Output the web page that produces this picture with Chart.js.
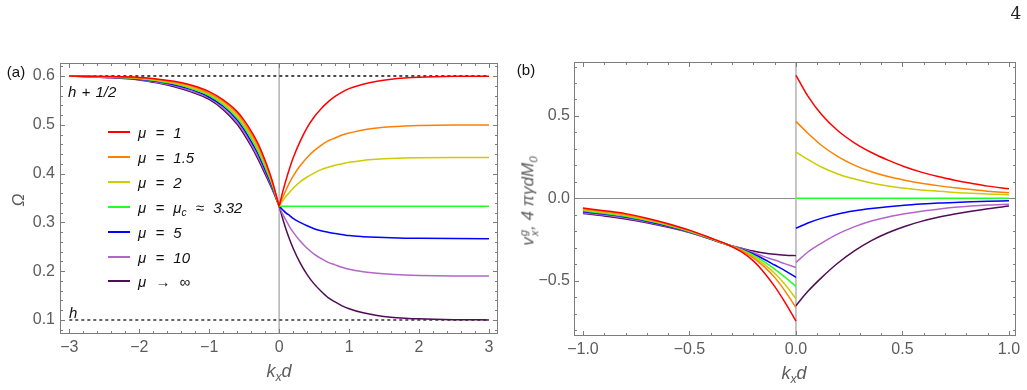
<!DOCTYPE html>
<html><head><meta charset="utf-8">
<script src="https://cdn.jsdelivr.net/npm/chart.js@4.4.1/dist/chart.umd.min.js"></script>
<style>
body{margin:0;background:#fff;}
#wrap{position:relative;width:1027px;height:390px;overflow:hidden;background:#fff;font-family:"Liberation Sans",Arial,sans-serif;}
canvas{position:absolute;top:0;}
.t{position:absolute;white-space:nowrap;line-height:1;}
.c{transform:translate(-50%,-50%);}
.l{transform:translate(0,-50%);}
.it{font-style:italic;}
.g{color:#5c5c5c;}
sub.s{font-size:68%;vertical-align:-0.3em;line-height:0;}
.ss{display:inline-flex;flex-direction:column;vertical-align:middle;font-size:0.66em;line-height:0.95;margin-left:1px;}
.leg{position:absolute;left:108px;width:22px;height:2px;}
</style></head>
<body><div id="wrap">
<canvas id="cL" width="512" height="390" style="left:0"></canvas>
<canvas id="cR" width="515" height="390" style="left:512px"></canvas>
</div>
<script>
// ---------------- data ----------------
const seriesNames = ['μ = 1','μ = 1.5','μ = 2','μ = μ<sub class="s">c</sub> ≈ 3.32','μ = 5','μ = 10','μ → ∞'];
const seriesColors = ['#ff0000','#ff8000','#cccc00','#22ff22','#0000ff','#b366c8','#500c55'];

// panel (a): Omega vs k_x d
const kA_neg = [-3,-2.5,-2,-1.75,-1.5,-1.25,-1,-0.8,-0.6,-0.5,-0.4,-0.3,-0.2,-0.1,0];
const omegaNeg = [
  [0.600,0.599,0.597,0.594,0.589,0.581,0.568,0.551,0.527,0.509,0.487,0.461,0.427,0.386,0.333],
  [0.600,0.599,0.596,0.593,0.587,0.579,0.565,0.548,0.523,0.504,0.482,0.456,0.422,0.383,0.333],
  [0.600,0.598,0.595,0.591,0.585,0.576,0.563,0.544,0.518,0.499,0.477,0.450,0.418,0.380,0.333],
  [0.600,0.598,0.595,0.590,0.584,0.574,0.560,0.541,0.514,0.495,0.472,0.445,0.413,0.377,0.333],
  [0.600,0.598,0.594,0.589,0.582,0.572,0.557,0.538,0.510,0.490,0.466,0.440,0.408,0.374,0.333],
  [0.600,0.597,0.593,0.587,0.580,0.569,0.555,0.534,0.505,0.485,0.461,0.434,0.404,0.371,0.333],
  [0.600,0.597,0.592,0.586,0.578,0.567,0.552,0.531,0.501,0.480,0.456,0.429,0.399,0.368,0.333]
];
const kA_pos = [0,0.05,0.1,0.15,0.2,0.3,0.4,0.5,0.6,0.7,0.8,0.9,1.0,1.2,1.4,1.6,1.8,2.0,2.5,3.0];
const omegaPos = [
  [0.333,0.362,0.388,0.411,0.432,0.466,0.494,0.516,0.533,0.547,0.558,0.567,0.574,0.5832,0.5893,0.5933,0.5957,0.5973,0.5992,0.5997],
  [0.333,0.351,0.367,0.382,0.395,0.416,0.433,0.447,0.458,0.467,0.473,0.479,0.483,0.4895,0.4933,0.4958,0.4973,0.4983,0.4995,0.4998],
  [0.333,0.344,0.354,0.362,0.370,0.383,0.393,0.401,0.408,0.413,0.417,0.420,0.423,0.4270,0.4293,0.4308,0.4317,0.4323,0.4330,0.4332],
  [0.333,0.333,0.333,0.333,0.333,0.333,0.333,0.333,0.333,0.333,0.333,0.333,0.333,0.333,0.333,0.333,0.333,0.333,0.333,0.333],
  [0.333,0.326,0.319,0.314,0.308,0.300,0.293,0.287,0.283,0.280,0.277,0.275,0.273,0.2708,0.2693,0.2683,0.2677,0.2673,0.2668,0.2667],
  [0.333,0.317,0.304,0.291,0.280,0.262,0.247,0.235,0.226,0.218,0.213,0.208,0.204,0.1990,0.1957,0.1936,0.1923,0.1914,0.1904,0.1901],
  [0.333,0.308,0.285,0.265,0.247,0.217,0.193,0.174,0.159,0.146,0.137,0.129,0.123,0.1147,0.1093,0.1058,0.1037,0.1023,0.1007,0.1002]
];
const refLineX = [-3,3];
const refUpper = [0.6,0.6];   // h + 1/2
const refLower = [0.1,0.1];   // h

// panel (b): group velocity vs k_x d
const kB_neg = [-1,-0.9,-0.8,-0.7,-0.6,-0.5,-0.4,-0.32,-0.25,-0.2,-0.15,-0.1,-0.05,0];
const velNeg = [
  [-0.059,-0.075,-0.093,-0.121,-0.154,-0.193,-0.241,-0.282,-0.330,-0.380,-0.450,-0.535,-0.635,-0.745],
  [-0.065,-0.080,-0.098,-0.126,-0.158,-0.196,-0.242,-0.282,-0.322,-0.362,-0.415,-0.480,-0.565,-0.663],
  [-0.070,-0.086,-0.104,-0.130,-0.161,-0.198,-0.244,-0.282,-0.318,-0.352,-0.400,-0.455,-0.525,-0.610],
  [-0.076,-0.091,-0.109,-0.135,-0.165,-0.201,-0.245,-0.282,-0.315,-0.345,-0.385,-0.430,-0.480,-0.535],
  [-0.082,-0.096,-0.114,-0.139,-0.169,-0.203,-0.246,-0.282,-0.312,-0.338,-0.370,-0.405,-0.440,-0.480],
  [-0.087,-0.102,-0.120,-0.144,-0.172,-0.206,-0.248,-0.282,-0.308,-0.330,-0.354,-0.375,-0.398,-0.420],
  [-0.093,-0.107,-0.125,-0.148,-0.176,-0.208,-0.249,-0.282,-0.305,-0.320,-0.332,-0.340,-0.345,-0.348]
];
const kB_pos = [0,0.056,0.119,0.197,0.276,0.354,0.432,0.510,0.588,0.667,0.745,0.823,0.901,1.0];
const velPos = [
  [0.747,0.620,0.510,0.410,0.335,0.278,0.232,0.192,0.159,0.132,0.110,0.091,0.074,0.058],
  [0.467,0.395,0.322,0.253,0.200,0.161,0.132,0.110,0.092,0.077,0.064,0.053,0.043,0.034],
  [0.281,0.236,0.190,0.148,0.117,0.093,0.075,0.061,0.051,0.043,0.036,0.031,0.026,0.022],
  [0,0,0,0,0,0,0,0,0,0,0,0,0,0],
  [-0.182,-0.150,-0.122,-0.095,-0.076,-0.062,-0.051,-0.042,-0.035,-0.029,-0.025,-0.021,-0.018,-0.015],
  [-0.390,-0.326,-0.273,-0.216,-0.172,-0.138,-0.113,-0.094,-0.078,-0.066,-0.055,-0.047,-0.041,-0.036],
  [-0.652,-0.565,-0.483,-0.393,-0.318,-0.257,-0.209,-0.171,-0.140,-0.115,-0.095,-0.078,-0.063,-0.047]
];

// ticks
const xTicksA = [-3,-2,-1,0,1,2,3];
const xLabelsA = ['−3','−2','−1','0','1','2','3'];
const yTicksA = [0.1,0.2,0.3,0.4,0.5,0.6];
const yLabelsA = ['0.1','0.2','0.3','0.4','0.5','0.6'];
const xTicksB = [-1,-0.5,0,0.5,1];
const xLabelsB = ['−1.0','−0.5','0.0','0.5','1.0'];
const yTicksB = [-0.5,0,0.5];
const yLabelsB = ['−0.5','0.0','0.5'];

// ---------------- helpers ----------------
function pts(xs, ys){ return xs.map((x,i)=>({x:x, y:ys[i]})); }
function minors(lo, hi, step, majors){
  const out=[]; const n=Math.round((hi-lo)/step);
  for(let i=0;i<=n;i++){ const v=+(lo+i*step).toFixed(6); if(!majors.some(m=>Math.abs(m-v)<1e-9)) out.push(v); }
  return out;
}
const FRAME='#7d7d7d';
const framePlugin = {
  id:'frame',
  beforeDatasetsDraw(chart, args, o){
    const {left,right,top,bottom}=chart.chartArea, ctx=chart.ctx;
    const xs=chart.scales.x, ys=chart.scales.y;
    ctx.save();
    if(o.zeroY){ const py=Math.round(ys.getPixelForValue(0))+0.5;
      ctx.strokeStyle='#8e8e8e'; ctx.lineWidth=1; ctx.beginPath(); ctx.moveTo(left,py); ctx.lineTo(right,py); ctx.stroke(); }
    if(o.zeroX){ const px=xs.getPixelForValue(0);
      ctx.strokeStyle='#b8b8b8'; ctx.lineWidth=1.6; ctx.beginPath(); ctx.moveTo(px,top); ctx.lineTo(px,bottom); ctx.stroke(); }
    ctx.restore();
  },
  afterDatasetsDraw(chart, args, o){
    const {left,right,top,bottom}=chart.chartArea, ctx=chart.ctx;
    const xs=chart.scales.x, ys=chart.scales.y;
    ctx.save(); ctx.strokeStyle=FRAME; ctx.lineWidth=1;
    ctx.strokeRect(Math.round(left)+0.5, Math.round(top)+0.5, Math.round(right-left)-1, Math.round(bottom-top)-1);
    ctx.beginPath();
    const tx=(vals,len)=>vals.forEach(v=>{const p=Math.round(xs.getPixelForValue(v))+0.5;
      ctx.moveTo(p,bottom); ctx.lineTo(p,bottom-len); ctx.moveTo(p,top); ctx.lineTo(p,top+len);});
    const ty=(vals,len)=>vals.forEach(v=>{const p=Math.round(ys.getPixelForValue(v))+0.5;
      ctx.moveTo(left,p); ctx.lineTo(left+len,p); ctx.moveTo(right,p); ctx.lineTo(right-len,p);});
    tx(o.xMajor,5); tx(o.xMinor,3); ty(o.yMajor,5); ty(o.yMinor,3);
    ctx.stroke(); ctx.restore();
  }
};

function curveDS(data,color){ return {data:data,borderColor:color,borderWidth:1.5,pointRadius:0,fill:false,cubicInterpolationMode:'monotone'}; }
function dashDS(data,color){ return {data:data,borderColor:color,borderWidth:1.5,pointRadius:0,fill:false,borderDash:[3,3],tension:0}; }

function makeChart(id, datasets, cfg){
  const tickFont={family:'"Liberation Sans", Arial, sans-serif', size:16};
  return new Chart(document.getElementById(id), {
    type:'line',
    data:{datasets:datasets},
    options:{
      responsive:false, animation:false, events:[],
      layout:{padding:{top:cfg.padTop,right:cfg.padRight,left:0,bottom:0}},
      plugins:{legend:{display:false}, tooltip:{enabled:false}, frame:cfg.frame},
      scales:{
        x:{type:'linear',min:cfg.xMin,max:cfg.xMax,
           grid:{display:false,drawTicks:false}, border:{display:false},
           ticks:{color:'#5c5c5c',font:tickFont,padding:4,maxRotation:0,autoSkip:false,
                  callback:(v,i)=>cfg.xLabels[i]},
           afterBuildTicks:s=>{s.ticks=cfg.xTicks.map(v=>({value:v}));},
           afterFit:s=>{s.height=cfg.xH;}},
        y:{type:'linear',min:cfg.yMin,max:cfg.yMax,
           grid:{display:false,drawTicks:false}, border:{display:false},
           ticks:{color:'#5c5c5c',font:tickFont,padding:cfg.yPad,autoSkip:false,
                  callback:(v,i)=>cfg.yLabels[i]},
           afterBuildTicks:s=>{s.ticks=cfg.yTicks.map(v=>({value:v}));},
           afterFit:s=>{s.width=cfg.yW;}}
      }
    },
    plugins:[framePlugin]
  });
}

// ---------------- panel (a) ----------------
const dsA=[];
for(let i=0;i<7;i++){
  dsA.push(curveDS(pts(kA_neg,omegaNeg[i]),seriesColors[i]));
  dsA.push(curveDS(pts(kA_pos,omegaPos[i]),seriesColors[i]));
}
dsA.push(dashDS(pts(refLineX,refUpper),'#111'));
dsA.push(dashDS(pts(refLineX,refLower),'#333'));
makeChart('cL', dsA, {
  padTop:63, padRight:14, xH:56, yW:60, yPad:5,
  xMin:-3.133, xMax:3.129, yMin:0.0713, yMax:0.6266,
  xTicks:xTicksA, xLabels:xLabelsA, yTicks:yTicksA, yLabels:yLabelsA,
  frame:{zeroX:true, zeroY:false, xMajor:xTicksA, xMinor:minors(-3,3,0.2,xTicksA),
         yMajor:yTicksA, yMinor:minors(0.08,0.62,0.02,yTicksA)}
});

// ---------------- panel (b) ----------------
const dsB=[];
for(let i=0;i<7;i++){
  dsB.push(curveDS(pts(kB_neg,velNeg[i]),seriesColors[i]));
  dsB.push(curveDS(pts(kB_pos,velPos[i]),seriesColors[i]));
}
makeChart('cR', dsB, {
  padTop:62, padRight:11, xH:54, yW:62, yPad:4,
  xMin:-1.042, xMax:1.033, yMin:-0.836, yMax:0.8276,
  xTicks:xTicksB, xLabels:xLabelsB, yTicks:yTicksB, yLabels:yLabelsB,
  frame:{zeroX:true, zeroY:true, xMajor:xTicksB, xMinor:minors(-1,1,0.1,xTicksB),
         yMajor:yTicksB, yMinor:minors(-0.8,0.8,0.1,yTicksB)}
});

// ---------------- text ----------------
const wrap=document.getElementById('wrap');
function txt(html,x,y,cls,style){ const d=document.createElement('div'); d.className='t '+cls; d.innerHTML=html;
  d.style.left=x+'px'; d.style.top=y+'px'; if(style) d.style.cssText+=';'+style; wrap.appendChild(d); return d; }

txt('(a)',16,71,'c','font-size:15px;color:#111');
txt('(b)',526,69,'c','font-size:15px;color:#111');
txt('4',1016,13,'c','font-family:"DejaVu Serif","Liberation Serif",serif;font-size:17px;color:#222');
txt('Ω',18,200,'c it g','font-size:17px;transform:translate(-50%,-50%) rotate(-90deg)');
txt('k<sub class="s">x</sub>d',279,371,'c it g','font-size:18px');
txt('k<sub class="s">x</sub>d',794,373,'c it g','font-size:18px');
txt('v<span class="ss"><span>g</span><span>x</span></span>, 4 πγdM<sub class="s">0</sub>',529,201,'c it g',
    'font-size:17px;transform:translate(-50%,-50%) rotate(-90deg)');
txt('h + 1/2',68,91,'l it','font-size:15px;color:#111;word-spacing:1px');
txt('h',69,312,'l it','font-size:15px;color:#111');

const legY0=132, legDY=24.9;
seriesNames.forEach((n,i)=>{
  const y=legY0+i*legDY;
  const sw=document.createElement('div'); sw.className='leg'; sw.style.top=(y-1)+'px'; sw.style.background=seriesColors[i];
  wrap.appendChild(sw);
  txt(n,138,y,'l it','font-size:15px;color:#111;word-spacing:5px');
});
</script>
</body></html>
